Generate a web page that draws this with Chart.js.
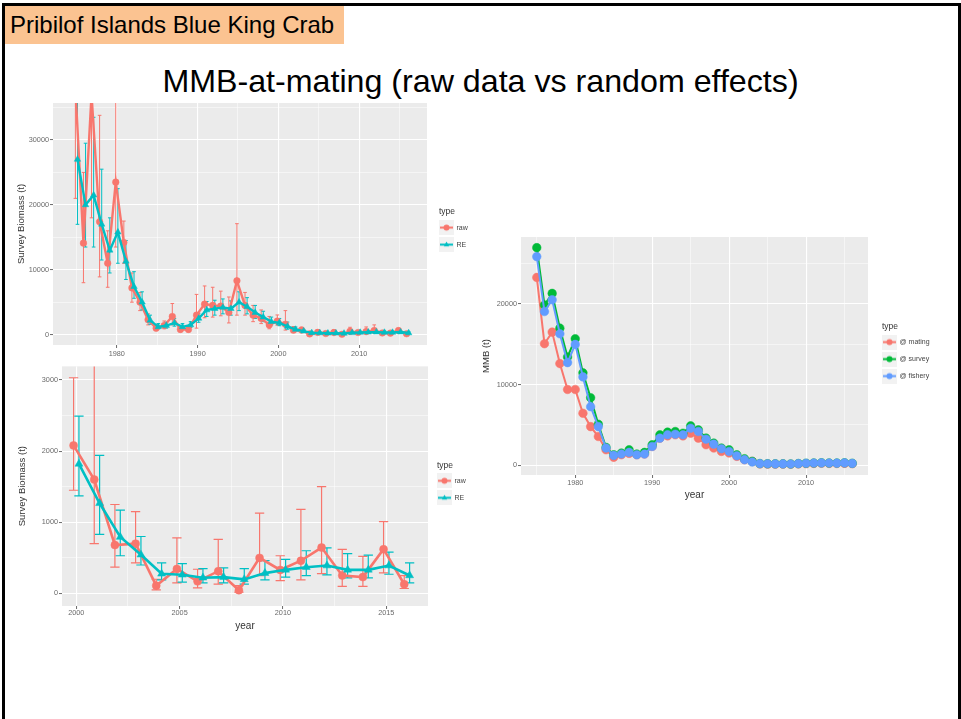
<!DOCTYPE html>
<html><head><meta charset="utf-8">
<script src="https://cdn.jsdelivr.net/npm/chart.js@4.4.1/dist/chart.umd.min.js"></script>
<style>
html,body{margin:0;padding:0;background:#fff;}
body{width:961px;height:719px;position:relative;overflow:hidden;font-family:"Liberation Sans",Arial,sans-serif;}
#frame{position:absolute;left:2px;top:3px;width:959px;height:730px;border:3px solid #000;border-bottom:none;box-sizing:border-box;}
#hdr{position:absolute;left:5px;top:6px;width:339px;height:38px;background:#FBC391;font-size:24px;line-height:38px;padding-left:5px;box-sizing:border-box;color:#000;white-space:nowrap;}
#ttl{position:absolute;left:0;top:63px;width:961px;text-align:center;font-size:32.2px;color:#000;white-space:nowrap;}
.cv{position:absolute;filter:blur(0.35px);}
</style>
</head><body>
<div id="frame"></div>
<div id="hdr">Pribilof Islands Blue King Crab</div>
<div id="ttl">MMB-at-mating (raw data vs random effects)</div>
<canvas id="cTop" class="cv" width="480" height="266" style="left:0;top:97px"></canvas>
<canvas id="cBot" class="cv" width="480" height="275" style="left:0;top:361px"></canvas>
<canvas id="cMmb" class="cv" width="470" height="272" style="left:480px;top:230px"></canvas>
<script>
// ---------------- data ----------------
const years = [1975,1976,1977,1978,1979,1980,1981,1982,1983,1984,1985,1986,1987,1988,1989,1990,1991,1992,1993,1994,1995,1996,1997,1998,1999,2000,2001,2002,2003,2004,2005,2006,2007,2008,2009,2010,2011,2012,2013,2014,2015,2016];
const rawBiomass = [38000,14100,37000,17400,11000,23500,14200,7200,5000,2300,1000,1400,2800,800,800,3000,4700,4500,4400,3400,8300,4500,3000,2500,1500,2080,1600,680,700,110,345,170,313,46,500,330,460,645,253,230,622,130];
const rawLo = [21000,8000,18000,8900,7300,13500,11000,5000,3700,1500,600,900,1500,400,400,1000,2600,2700,2900,1800,3000,3000,2000,1700,900,1450,700,370,430,50,150,80,130,20,250,180,190,280,100,100,290,70];
const rawHi = [60000,25000,60000,33800,16000,48000,17500,9500,6500,3200,1500,2100,4800,1300,1300,6200,7500,7300,6700,5800,17100,6500,4500,3800,2800,3030,3700,1250,1150,200,780,340,760,110,1130,530,1180,1500,620,520,1010,250];
const reBiomass = [27000,20000,21500,17000,13000,15800,11300,7400,5000,2200,1200,1400,1800,1200,1500,2500,3800,4000,4200,4000,5000,4300,3400,2700,2000,1820,1267,793,544,276,263,221,230,198,286,332,369,392,332,332,392,253];
const reLo = [17000,13500,13500,11500,9500,11000,8500,5600,3800,1600,900,1000,1300,900,1100,1900,2800,3000,3200,3000,3700,3200,2500,2000,1500,1370,830,530,400,190,160,150,150,130,190,230,250,260,220,220,270,150];
const reHi = [42000,29500,33500,25500,18000,22500,14500,9700,6600,3000,1700,1900,2500,1700,2000,3300,5100,5300,5500,5200,6600,5700,4500,3600,2700,2490,1940,1170,800,430,420,350,360,350,460,480,600,640,560,540,580,430];
const mmbMating = [23290,15070,16510,12610,9400,9400,6450,4800,3570,1930,990,1310,1480,1310,1400,2340,3370,3650,3780,3650,3980,3370,2550,2140,1720,1520,1110,700,490,170,150,140,150,130,170,200,230,250,230,220,240,200];
const mmbSurvey = [26980,19880,21310,17000,13430,15690,11460,8380,5090,2220,1310,1520,1930,1400,1600,2550,3780,4110,4190,3980,4890,4390,3370,2750,2140,1930,1310,820,490,220,200,190,190,170,220,260,290,310,290,280,310,250];
const mmbFishery = [25870,19060,20530,16300,12730,14990,10960,7270,4800,2140,1230,1400,1600,1310,1400,2340,3370,3780,3860,3780,4600,4190,3240,2630,2050,1720,1190,700,410,210,190,180,180,160,210,250,280,300,280,270,300,240];
const zoomStartYear = 2000;

// tick labels (major) and minor grid positions
const topYearTicks = [1980,1990,2000,2010];
const topYearMinor = [1975,1985,1995,2005,2015];
const topBiomassTicks = [0,10000,20000,30000];
const topBiomassMinor = [5000,15000,25000,35000];
const zoomYearTicks = [2000,2005,2010,2015];
const zoomYearMinor = [2002.5,2007.5,2012.5];
const zoomBiomassTicks = [0,1000,2000,3000];
const zoomBiomassMinor = [500,1500,2500];
const mmbYearTicks = [1980,1990,2000,2010];
const mmbYearMinor = [1975,1985,1995,2005,2015];
const mmbTicks = [0,10000,20000];
const mmbMinor = [5000,15000,25000];

const RED = '#F8766D', TEAL = '#00BFC4', GREEN = '#00BA38', BLUE = '#619CFF';
const DODGE = 0.13;
const FONT = 'Liberation Sans';

// ---------------- helpers ----------------
function makeKey(color, shape, lw, r) {
  const c = document.createElement('canvas'); c.width = 24; c.height = 15;
  const g = c.getContext('2d');
  g.fillStyle = '#F2F2F2'; g.fillRect(0, 0, 15, 15);
  g.strokeStyle = color; g.lineWidth = lw;
  g.beginPath(); g.moveTo(1, 7.5); g.lineTo(14, 7.5); g.stroke();
  g.fillStyle = color; g.beginPath();
  if (shape === 'triangle') { g.moveTo(7.5, 7.5 - r); g.lineTo(7.5 + r * 0.9, 7.5 + r * 0.6); g.lineTo(7.5 - r * 0.9, 7.5 + r * 0.6); g.closePath(); }
  else g.arc(7.5, 7.5, r, 0, Math.PI * 2);
  g.fill();
  return c;
}

const panelBg = {
  id: 'panelBg',
  beforeDraw(chart) {
    const a = chart.chartArea, ctx = chart.ctx;
    ctx.save(); ctx.fillStyle = '#EBEBEB'; ctx.fillRect(a.left, a.top, a.width, a.height); ctx.restore();
  }
};

const errorBars = {
  id: 'errorBars',
  beforeDatasetsDraw(chart, args, opts) {
    const {ctx, chartArea: a} = chart;
    const x = chart.scales.x, y = chart.scales.y;
    ctx.save();
    ctx.beginPath(); ctx.rect(a.left, a.top, a.width, a.height); ctx.clip();
    chart.data.datasets.forEach(ds => {
      if (!ds.errLo) return;
      ctx.strokeStyle = ds.borderColor; ctx.lineWidth = opts.lineWidth || 1;
      ds.data.forEach((pt, i) => {
        const px = x.getPixelForValue(pt.x);
        const hw = Math.abs(x.getPixelForValue(pt.x + opts.capWidth / 2) - px);
        const lo = y.getPixelForValue(ds.errLo[i]), hi = y.getPixelForValue(ds.errHi[i]);
        ctx.beginPath();
        ctx.moveTo(px, lo); ctx.lineTo(px, hi);
        ctx.moveTo(px - hw, lo); ctx.lineTo(px + hw, lo);
        ctx.moveTo(px - hw, hi); ctx.lineTo(px + hw, hi);
        ctx.stroke();
      });
    });
    ctx.restore();
  }
};

function gridCfg(majors) {
  return {
    color: '#FFFFFF',
    lineWidth: c => (c.tick && majors.includes(c.tick.value)) ? 1.1 : 0.5,
    tickColor: c => (c.tick && majors.includes(c.tick.value)) ? '#6a6a6a' : 'rgba(0,0,0,0)',
    tickLength: 3, tickWidth: 1, drawTicks: true
  };
}

function pts(xs, ys, dx) { return xs.map((v, i) => ({x: v + dx, y: ys[i]})); }

function buildChart(o) {
  const canvas = document.getElementById(o.id);
  const H = canvas.height;
  const tickFont = {family: FONT, size: 7.3};
  const cfg = {
    type: 'line',
    data: {datasets: o.datasets},
    options: {
      responsive: false, animation: false, events: [],
      layout: {padding: {left: 0, top: o.target.top, right: 0, bottom: 0}},
      scales: {
        x: {
          type: 'linear', min: o.xMin, max: o.xMax,
          afterBuildTicks: ax => { ax.ticks = o.xMajor.concat(o.xMinor).sort((a, b) => a - b).map(v => ({value: v})); },
          afterFit: s => { s.height = H - o.target.bottom; },
          ticks: {callback: v => o.xMajor.includes(v) ? String(v) : '', font: tickFont, color: '#6a6a6a', padding: o.xTickPad, autoSkip: false, maxRotation: 0},
          grid: gridCfg(o.xMajor), border: {display: false},
          title: {display: !!o.xTitle, text: o.xTitle || '', color: '#333', font: {family: FONT, size: 10}, padding: {top: 0, bottom: o.xTitlePad}}
        },
        y: {
          type: 'linear', min: o.yMin, max: o.yMax,
          afterBuildTicks: ax => { ax.ticks = o.yMajor.concat(o.yMinor).sort((a, b) => a - b).map(v => ({value: v})); },
          afterFit: s => { s.width = o.target.left; },
          ticks: {callback: v => o.yMajor.includes(v) ? String(v) : '', font: tickFont, color: '#6a6a6a', padding: 1, autoSkip: false, maxRotation: 0},
          grid: gridCfg(o.yMajor), border: {display: false},
          title: {display: true, text: o.yTitle, color: '#333', font: {family: FONT, size: 9.5}, padding: {top: o.yTitlePad, bottom: 0}}
        },
        gap: {
          type: 'linear', position: 'right', display: true,
          grid: {display: false}, border: {display: false}, ticks: {display: false},
          afterFit: s => { s.width = o.gap; }
        }
      },
      plugins: {
        tooltip: {enabled: false},
        errorBars: {capWidth: o.capWidth, lineWidth: o.errWidth},
        legend: {
          position: 'right', align: 'center', fullSize: o.legendFull,
          title: {display: true, text: 'type', position: 'start', color: '#333', font: {family: FONT, size: 8.5}, padding: {top: 0, bottom: -4}},
          labels: {
            usePointStyle: true, pointStyleWidth: 4, padding: 10, color: '#444', font: {family: FONT, size: 7},
            sort: (a, b) => a.datasetIndex - b.datasetIndex,
            generateLabels: chart => {
              const items = Chart.defaults.plugins.legend.labels.generateLabels(chart);
              items.forEach(it => { it.pointStyle = chart.data.datasets[it.datasetIndex].legendKey; });
              return items;
            }
          }
        }
      }
    },
    plugins: [panelBg, errorBars]
  };
  const chart = new Chart(canvas, cfg);
  const d = chart.chartArea.right - o.target.right;
  if (Math.abs(d) > 0.1) { cfg.options.layout.padding.right += d; chart.update('none'); }
  return chart;
}

function lineDs(label, data, color, shape, lw, r, order, extra) {
  return Object.assign({
    label, data, order,
    borderColor: color, backgroundColor: color, borderWidth: lw,
    pointStyle: shape, pointRadius: r, pointBackgroundColor: color, pointBorderColor: color, pointBorderWidth: 0.5,
    tension: 0, fill: false,
    legendKey: makeKey(color, shape, Math.min(lw, 2), Math.min(r, 3))
  }, extra || {});
}

// ---------------- chart 1: full series ----------------
buildChart({
  id: 'cTop',
  datasets: [
    lineDs('raw', pts(years, rawBiomass, -DODGE), RED, 'circle', 2.4, 3.3, 2, {errLo: rawLo, errHi: rawHi}),
    lineDs('RE', pts(years, reBiomass, DODGE), TEAL, 'triangle', 2.4, 3.7, 1, {errLo: reLo, errHi: reHi})
  ],
  xMin: 1972.1, xMax: 2018.4, yMin: -1600, yMax: 35700,
  xMajor: topYearTicks, xMinor: topYearMinor, yMajor: topBiomassTicks, yMinor: topBiomassMinor,
  yTitle: 'Survey Biomass (t)', yTitlePad: 16, xTitle: null, xTickPad: 2, xTitlePad: 0,
  target: {left: 53, top: 6, right: 427, bottom: 248}, gap: 12, legendFull: true,
  capWidth: 0.45, errWidth: 1
});

// ---------------- chart 2: 2000 onwards ----------------
const k0 = years.indexOf(zoomStartYear);
const zYears = years.slice(k0);
buildChart({
  id: 'cBot',
  datasets: [
    lineDs('raw', pts(zYears, rawBiomass.slice(k0), -DODGE), RED, 'circle', 2.6, 4, 2, {errLo: rawLo.slice(k0), errHi: rawHi.slice(k0)}),
    lineDs('RE', pts(zYears, reBiomass.slice(k0), DODGE), TEAL, 'triangle', 2.6, 4.6, 1, {errLo: reLo.slice(k0), errHi: reHi.slice(k0)})
  ],
  xMin: 1999.31, xMax: 2017.02, yMin: -176, yMax: 3190,
  xMajor: zoomYearTicks, xMinor: zoomYearMinor, yMajor: zoomBiomassTicks, yMinor: zoomBiomassMinor,
  yTitle: 'Survey Biomass (t)', yTitlePad: 17, xTitle: 'year', xTickPad: 0, xTitlePad: 4,
  target: {left: 62, top: 2, right: 428, bottom: 245}, gap: 9, legendFull: false,
  capWidth: 0.45, errWidth: 1.2
});

// ---------------- chart 3: MMB ----------------
buildChart({
  id: 'cMmb',
  datasets: [
    lineDs('@ mating', pts(years, mmbMating, 0), RED, 'circle', 2, 4.3, 3),
    lineDs('@ survey', pts(years, mmbSurvey, 0), GREEN, 'circle', 2, 4.3, 2),
    lineDs('@ fishery', pts(years, mmbFishery, 0), BLUE, 'circle', 2, 4.3, 1)
  ],
  xMin: 1972.95, xMax: 2018.05, yMin: -1200, yMax: 28300,
  xMajor: mmbYearTicks, xMinor: mmbYearMinor, yMajor: mmbTicks, yMinor: mmbMinor,
  yTitle: 'MMB (t)', yTitlePad: 0.5, xTitle: 'year', xTickPad: 1, xTitlePad: 1,
  target: {left: 41, top: 7, right: 388, bottom: 245}, gap: 14, legendFull: false,
  capWidth: 0, errWidth: 0
});
</script>
</body></html>
